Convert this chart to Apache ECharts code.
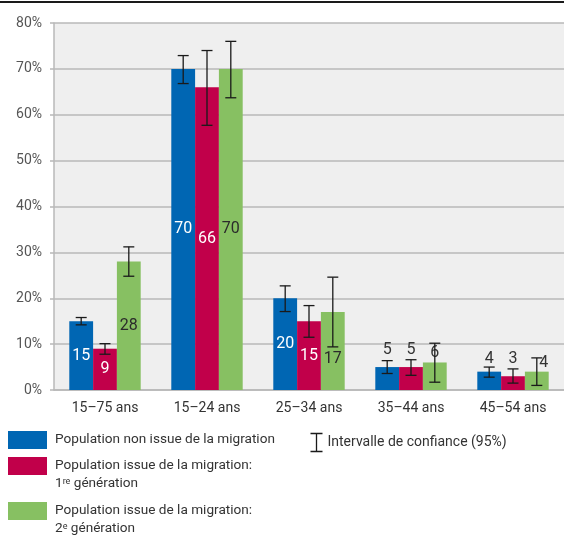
<!DOCTYPE html>
<html><head><meta charset="utf-8">
<script src="https://cdn.jsdelivr.net/npm/echarts@6/dist/echarts.min.js"></script>
<style>html,body{margin:0;padding:0;background:#fff}#c{width:564px;height:538px}</style>
</head><body><div id="c"></div>
<script>
const categories = ['15–75 ans', '15–24 ans', '25–34 ans', '35–44 ans', '45–54 ans'];
const seriesNames = [
  'Population non issue de la migration',
  'Population issue de la migration: 1re génération',
  'Population issue de la migration: 2e génération'
];
const ciName = 'Intervalle de confiance (95%)';
const nonMigrant = [15, 70, 20, 5, 4];
const firstGen = [9, 66, 15, 5, 3];
const secondGen = [28, 70, 17, 6, 4];
const nonMigrantCI = [[14.2, 15.8], [66.8, 72.9], [17.1, 22.7], [3.6, 6.4], [2.8, 5.0]];
const firstGenCI = [[7.8, 10.1], [57.7, 74.0], [11.5, 18.4], [3.2, 6.6], [1.5, 4.6]];
const secondGenCI = [[24.8, 31.2], [63.7, 76.0], [9.4, 24.6], [1.7, 10.2], [1.0, 7.0]];
const yMin = 0, yMax = 80, yStep = 10;

const FONT = 'Roboto';
const colors = ['#0066b3', '#c1004a', '#87c062'];
const insideColors = ['#ffffff', '#ffffff', '#2b2b2b'];

// label placement (style only): small values are drawn above the confidence interval
const outsideLabel = {
  '0-3': {distance: 9}, '1-3': {distance: 9}, '2-3': {distance: 1},
  '0-4': {distance: 5}, '1-4': {distance: 9}, '2-4': {distance: 1, offset: [7, 0]}
};
const insideOffset = {'2-2': [0, 8]};

function barData(values, s) {
  return values.map((v, i) => {
    const key = s + '-' + i;
    if (outsideLabel[key]) {
      const o = outsideLabel[key];
      return {value: v, label: {position: 'top', distance: o.distance, offset: o.offset || [0, 0], color: '#333'}};
    }
    return {value: v, label: {position: 'inside', offset: insideOffset[key] || [0, 0], color: insideColors[s]}};
  });
}

const ciData = [];
[nonMigrantCI, firstGenCI, secondGenCI].forEach((arr, s) => {
  arr.forEach((ci, i) => ciData.push([i, s, ci[0], ci[1]]));
});

function renderCI(params, api) {
  const cat = api.value(0), s = api.value(1);
  const lo = api.coord([cat, api.value(2)]);
  const hi = api.coord([cat, api.value(3)]);
  const catW = api.size([1, 0])[0];
  const barW = catW * 0.7 / 3;
  const x = lo[0] + (s - 1) * barW;
  const cap = 5.5;
  const style = {stroke: '#1a1a1a', lineWidth: 1.3, fill: null};
  return {type: 'group', children: [
    {type: 'line', shape: {x1: x, y1: hi[1], x2: x, y2: lo[1]}, style: style},
    {type: 'line', shape: {x1: x - cap, y1: hi[1], x2: x + cap, y2: hi[1]}, style: style},
    {type: 'line', shape: {x1: x - cap, y1: lo[1], x2: x + cap, y2: lo[1]}, style: style}
  ]};
}

const legendText = {fontSize: 13.6, color: '#333', fontFamily: FONT, lineHeight: 18, padding: [0, 0, 0, 3],
  rich: {sup: {fontSize: 9, fontFamily: FONT, color: '#333', verticalAlign: 'top', padding: [2, 0, 0, 0]}}};
function legendBase(extra) {
  return Object.assign({orient: 'vertical', padding: 0, itemWidth: 39, itemHeight: 18, icon: 'rect',
    selectedMode: false, textStyle: legendText}, extra);
}

const chart = echarts.init(document.getElementById('c'), null, {renderer: 'canvas'});
chart.setOption({
  animation: false,
  color: colors,
  textStyle: {fontFamily: FONT},
  grid: {left: 54, right: 0, top: 23, bottom: 148, show: true, backgroundColor: '#efefef', borderWidth: 0, outerBoundsMode: 'none'},
  graphic: [
    {type: 'line', shape: {x1: 0, y1: 2, x2: 564, y2: 2}, style: {stroke: '#1a1a1a', lineWidth: 2}}
  ],
  legend: [
    legendBase({data: [seriesNames[0]], left: 8, top: 431}),
    legendBase({data: [seriesNames[1]], left: 8, top: 439,
      formatter: () => '\nPopulation issue de la migration:\n1{sup|re} génération'}),
    legendBase({data: [seriesNames[2]], left: 8, top: 484,
      formatter: () => '\nPopulation issue de la migration:\n2{sup|e} génération'}),
    legendBase({data: [{name: ciName, icon: 'path://M0,0H12M6,0V18M0,18H12',
      itemStyle: {color: 'none', borderColor: '#1a1a1a', borderWidth: 1.3}}],
      left: 308, top: 431, itemWidth: 12, itemHeight: 18,
      textStyle: Object.assign({}, legendText, {fontSize: 14, padding: [0, 0, 0, 0]})})
  ],
  xAxis: {
    type: 'category', data: categories,
    axisLine: {show: true, lineStyle: {color: '#b8b8b8', width: 1.5}},
    axisTick: {show: false},
    axisLabel: {color: '#333', fontSize: 14, margin: 11, fontFamily: FONT}
  },
  yAxis: {
    type: 'value', min: yMin, max: yMax, interval: yStep,
    axisLine: {show: true, lineStyle: {color: '#b8b8b8', width: 1.5}},
    axisTick: {show: true, length: 4, lineStyle: {color: '#b8b8b8', width: 1.5}},
    axisLabel: {formatter: '{value}%', color: '#555', fontSize: 14, margin: 12, fontFamily: FONT},
    splitLine: {show: true, lineStyle: {color: '#b8b8b8', width: 1.5}}
  },
  series: [
    {type: 'bar', name: seriesNames[0], data: barData(nonMigrant, 0), barGap: '0%', barCategoryGap: '30%',
      label: {show: true, fontSize: 16, fontFamily: FONT}, itemStyle: {color: colors[0]}},
    {type: 'bar', name: seriesNames[1], data: barData(firstGen, 1), barGap: '0%', barCategoryGap: '30%',
      label: {show: true, fontSize: 16, fontFamily: FONT}, itemStyle: {color: colors[1]}},
    {type: 'bar', name: seriesNames[2], data: barData(secondGen, 2), barGap: '0%', barCategoryGap: '30%',
      label: {show: true, fontSize: 16, fontFamily: FONT}, itemStyle: {color: colors[2]}},
    {type: 'custom', name: ciName, data: ciData, renderItem: renderCI, encode: {x: 0, y: [2, 3]}, z: 10,
      itemStyle: {color: '#1a1a1a'}}
  ]
});
</script></body></html>
